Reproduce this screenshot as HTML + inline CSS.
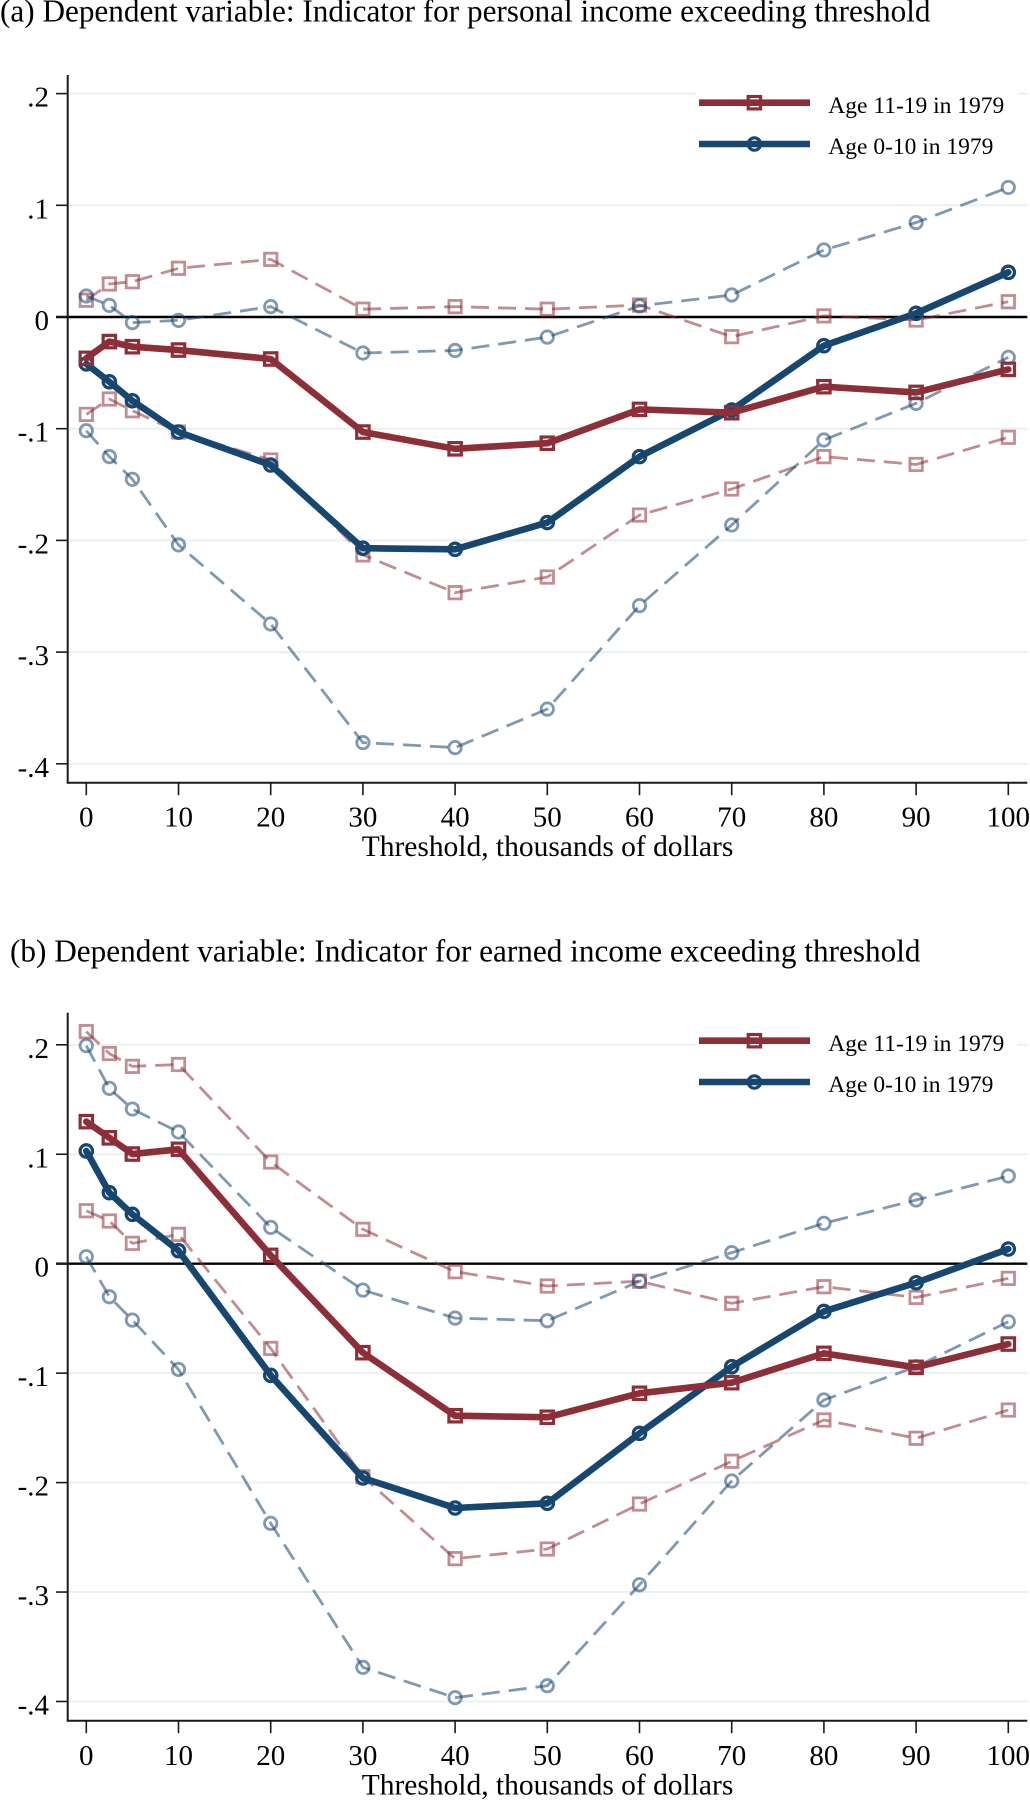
<!DOCTYPE html>
<html lang="en">
<head>
<meta charset="utf-8">
<title>Income threshold coefficients by age group</title>
<style>
  html, body { margin: 0; padding: 0; background: #fff; }
  body { width: 1030px; height: 1800px; overflow: hidden; }
  svg { display: block; filter: blur(0.35px); }
  text { font-family: "Liberation Serif", "Times New Roman", serif; fill: #000; }
</style>
</head>
<body>
<svg id="figure" xmlns="http://www.w3.org/2000/svg" width="1030" height="1800" viewBox="0 0 1030 1800"></svg>
<script>
const thresholds = [0, 2.5, 5, 10, 20, 30, 40, 50, 60, 70, 80, 90, 100];
const xTickValues = [0, 10, 20, 30, 40, 50, 60, 70, 80, 90, 100];
const yTickValues = [0.2, 0.1, 0, -0.1, -0.2, -0.3, -0.4];
const yTickLabels = [".2", ".1", "0", "-.1", "-.2", "-.3", "-.4"];

const personalOlderMain = [-0.037, -0.022, -0.0266, -0.0296, -0.0376, -0.103, -0.118, -0.113, -0.0827, -0.0857, -0.0624, -0.0675, -0.0469];
const personalOlderUpper = [0.015, 0.0296, 0.0316, 0.0436, 0.0516, 0.007, 0.0093, 0.007, 0.0107, -0.0176, 0.001, -0.0027, 0.0137];
const personalOlderLower = [-0.0872, -0.0734, -0.0839, -0.103, -0.128, -0.213, -0.2468, -0.2328, -0.1773, -0.154, -0.125, -0.132, -0.1077];
const personalYoungerMain = [-0.042, -0.058, -0.075, -0.103, -0.1325, -0.207, -0.208, -0.184, -0.125, -0.0833, -0.0257, 0.0033, 0.04];
const personalYoungerUpper = [0.0188, 0.0104, -0.005, -0.003, 0.0093, -0.0322, -0.03, -0.018, 0.0099, 0.0197, 0.06, 0.0845, 0.116];
const personalYoungerLower = [-0.1018, -0.125, -0.1453, -0.204, -0.2748, -0.381, -0.3855, -0.351, -0.2584, -0.1862, -0.1101, -0.0773, -0.0361];

const earnedOlderMain = [0.1298, 0.115, 0.1002, 0.1045, 0.0076, -0.0813, -0.1389, -0.1403, -0.1184, -0.1087, -0.0819, -0.0947, -0.0734];
const earnedOlderUpper = [0.212, 0.192, 0.1803, 0.182, 0.0929, 0.0314, -0.0073, -0.0204, -0.016, -0.0362, -0.021, -0.0308, -0.0134];
const earnedOlderLower = [0.0484, 0.039, 0.0186, 0.0268, -0.0774, -0.1946, -0.2695, -0.2607, -0.2196, -0.1805, -0.1428, -0.1595, -0.1337];
const earnedYoungerMain = [0.103, 0.0649, 0.0451, 0.0119, -0.102, -0.1958, -0.2232, -0.2189, -0.155, -0.0941, -0.0436, -0.0174, 0.0134];
const earnedYoungerUpper = [0.1992, 0.1602, 0.1413, 0.1203, 0.0332, -0.0241, -0.0497, -0.0521, -0.0161, 0.0101, 0.0369, 0.0582, 0.0801];
const earnedYoungerLower = [0.0064, -0.0302, -0.0515, -0.0966, -0.2372, -0.3688, -0.3965, -0.3856, -0.2933, -0.1985, -0.1245, -0.0941, -0.053];

const RED = "#8c2f39";
const BLUE = "#17466f";
const SVG_NS = "http://www.w3.org/2000/svg";
const figure = document.getElementById("figure");

const xAxisLeft = 67.7;
const xAxisRight = 1027.3;
function xScale(v) { return 86.3 + 9.22 * v; }

function make(tag, attrs, parent, text) {
  const el = document.createElementNS(SVG_NS, tag);
  for (const k in attrs) el.setAttribute(k, attrs[k]);
  if (text !== undefined) el.textContent = text;
  parent.appendChild(el);
  return el;
}

function drawSquare(parent, cx, cy, color, sw, opacity, name) {
  const s = 12.4;
  const m = make("rect", { x: cx - s / 2, y: cy - s / 2, width: s, height: s, fill: "none", stroke: color, "stroke-width": sw, "stroke-opacity": opacity }, parent);
  
  
}

function drawCircle(parent, cx, cy, color, sw, opacity, name) {
  const m = make("circle", { cx: cx, cy: cy, r: 6.2, fill: "none", stroke: color, "stroke-width": sw, "stroke-opacity": opacity }, parent);
  
  
}

function drawSeries(parent, values, yScale, color, marker, isMain, name) {
  const g = make("g", {}, parent);
  
  
  const pts = values.map((v, i) => xScale(thresholds[i]).toFixed(2) + "," + yScale(v).toFixed(2)).join(" ");
  const lineAttrs = isMain
    ? { points: pts, fill: "none", stroke: color, "stroke-width": 6.6, "stroke-linejoin": "round", "stroke-linecap": "round" }
    : { points: pts, fill: "none", stroke: color, "stroke-width": 2.8, "stroke-opacity": 0.55, "stroke-dasharray": "18 9" };
  const line = make("polyline", lineAttrs, g);
  
  
  values.forEach((v, i) => {
    const cx = xScale(thresholds[i]);
    const cy = yScale(v);
    const draw = marker === "square" ? drawSquare : drawCircle;
    draw(g, cx, cy, color, isMain ? 3.2 : 2.8, isMain ? 1 : 0.55, name + "-point");
  });
}

function drawLegendEntry(parent, y, color, marker, label, name) {
  const g = make("g", {}, parent);
  
  
  const l = make("line", { x1: 699, x2: 810, y1: y, y2: y, stroke: color, "stroke-width": 6.6 }, g);
  
  
  const draw = marker === "square" ? drawSquare : drawCircle;
  draw(g, 754.4, y, color, 3.2, 1, name + "-marker");
  const t = make("text", { x: 828.3, y: y + 10.2, "font-size": 23.5 }, g, label);
  
  
}

function drawPanel(cfg) {
  const yScale = v => cfg.zeroY - cfg.pxPerUnit * v;
  const root = make("g", {}, figure);
  
  

  const title = make("text", { x: cfg.titleX, y: cfg.titleY, "font-size": 31.2, textLength: cfg.titleWidth, lengthAdjust: "spacing" }, root, cfg.title);
  
  

  yTickValues.forEach(v => {
    if (v === 0) return;
    const grid = make("line", { x1: xAxisLeft, x2: xAxisRight, y1: yScale(v), y2: yScale(v), stroke: "#e8f1f2", "stroke-width": 2 }, root);
    
    
  });

  const legendBox = make("rect", { x: 696, y: cfg.legendY1 - 18, width: 321.3, height: cfg.legendY2 - cfg.legendY1 + 36, fill: "#fff" }, root);
  
  

  const zero = make("line", { x1: 56, x2: xAxisRight, y1: yScale(0), y2: yScale(0), stroke: "#000", "stroke-width": 2.4 }, root);
  
  

  drawSeries(root, cfg.olderUpper, yScale, RED, "square", false, "older-cohort-upper-ci");
  drawSeries(root, cfg.olderLower, yScale, RED, "square", false, "older-cohort-lower-ci");
  drawSeries(root, cfg.youngerUpper, yScale, BLUE, "circle", false, "younger-cohort-upper-ci");
  drawSeries(root, cfg.youngerLower, yScale, BLUE, "circle", false, "younger-cohort-lower-ci");
  drawSeries(root, cfg.youngerMain, yScale, BLUE, "circle", true, "younger-cohort-estimate");
  drawSeries(root, cfg.olderMain, yScale, RED, "square", true, "older-cohort-estimate");

  const yAxis = make("line", { x1: xAxisLeft, x2: xAxisLeft, y1: cfg.axisTop, y2: cfg.axisBottom + 1, stroke: "#1a1a1a", "stroke-width": 2 }, root);
  
  
  const xAxis = make("line", { x1: xAxisLeft, x2: xAxisRight, y1: cfg.axisBottom, y2: cfg.axisBottom, stroke: "#1a1a1a", "stroke-width": 2 }, root);
  
  

  yTickValues.forEach((v, i) => {
    const tick = make("line", { x1: 56, x2: xAxisLeft, y1: yScale(v), y2: yScale(v), stroke: "#1a1a1a", "stroke-width": 1.6 }, root);
    
    
    const label = make("text", { x: 49, y: yScale(v) + 13, "font-size": 29, "text-anchor": "end" }, root, yTickLabels[i]);
    
    
  });

  xTickValues.forEach(v => {
    const tick = make("line", { x1: xScale(v), x2: xScale(v), y1: cfg.axisBottom, y2: cfg.axisBottom + 12.5, stroke: "#1a1a1a", "stroke-width": 1.6 }, root);
    
    
    const label = make("text", { x: xScale(v), y: cfg.xLabelY, "font-size": 29, "text-anchor": "middle" }, root, String(v));
    
    
  });

  const xTitle = make("text", { x: 361.7, y: cfg.xTitleY, "font-size": 29.5, textLength: 371.6, lengthAdjust: "spacing" }, root, "Threshold, thousands of dollars");
  
  

  const legend = make("g", {}, root);
  
  
  drawLegendEntry(legend, cfg.legendY1, RED, "square", "Age 11-19 in 1979", "legend-entry-older-cohort");
  drawLegendEntry(legend, cfg.legendY2, BLUE, "circle", "Age 0-10 in 1979", "legend-entry-younger-cohort");
}

drawPanel({
  name: "panel-a-personal-income",
  title: "(a) Dependent variable: Indicator for personal income exceeding threshold",
  titleX: 0, titleY: 21.5, titleWidth: 930.5,
  zeroY: 317, pxPerUnit: 1117,
  axisTop: 75, axisBottom: 782.7,
  xLabelY: 826.7, xTitleY: 856,
  legendY1: 102.7, legendY2: 144,
  olderMain: personalOlderMain, olderUpper: personalOlderUpper, olderLower: personalOlderLower,
  youngerMain: personalYoungerMain, youngerUpper: personalYoungerUpper, youngerLower: personalYoungerLower
});

drawPanel({
  name: "panel-b-earned-income",
  title: "(b) Dependent variable: Indicator for earned income exceeding threshold",
  titleX: 10, titleY: 961.5, titleWidth: 910.5,
  zeroY: 1263.7, pxPerUnit: 1094.5,
  axisTop: 1012.7, axisBottom: 1720.7,
  xLabelY: 1765, xTitleY: 1794.3,
  legendY1: 1040.7, legendY2: 1082,
  olderMain: earnedOlderMain, olderUpper: earnedOlderUpper, olderLower: earnedOlderLower,
  youngerMain: earnedYoungerMain, youngerUpper: earnedYoungerUpper, youngerLower: earnedYoungerLower
});
</script>
</body>
</html>
